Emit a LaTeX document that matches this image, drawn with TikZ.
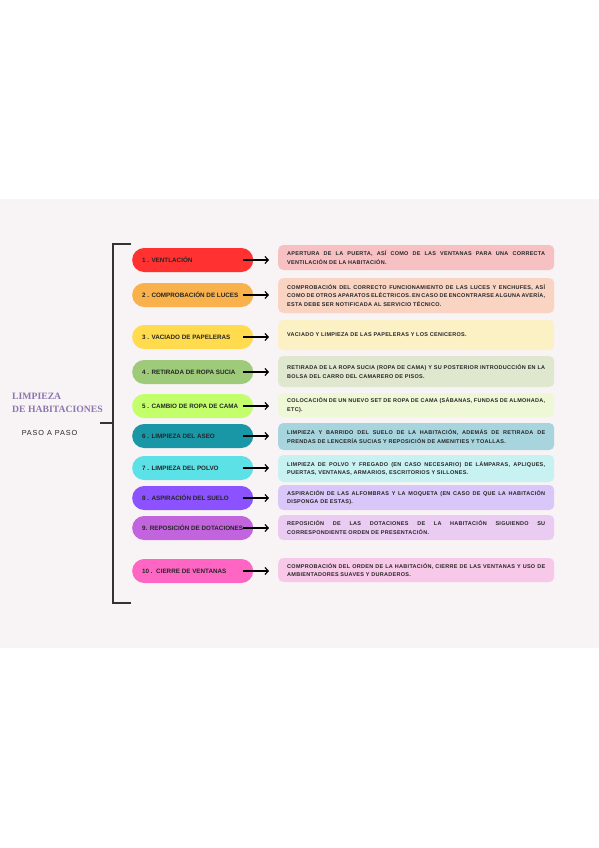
\documentclass[tikz,border=0pt]{standalone}
\usepackage{fontspec}
\setmainfont{Liberation Serif}
\newfontfamily\pillsans{Liberation Sans}
\newfontfamily\boxsans[LetterSpace=5]{Liberation Sans}
\newfontfamily\pasofont[LetterSpace=12]{Liberation Sans}
\usetikzlibrary{arrows.meta}
\newcommand{\nohyph}{\hyphenpenalty=10000\relax\exhyphenpenalty=10000\relax}
\definecolor{bandbg}{HTML}{F8F3F4}
\definecolor{titlec}{HTML}{8B76B0}
\definecolor{txtc}{HTML}{262626}
\definecolor{ca}{HTML}{FF3131}\definecolor{la}{HTML}{F7C1C4}
\definecolor{cb}{HTML}{F9B14C}\definecolor{lb}{HTML}{F9D4C2}
\definecolor{cc}{HTML}{FFDB4D}\definecolor{lc}{HTML}{FCF0C5}
\definecolor{cd}{HTML}{9ECB7A}\definecolor{ld}{HTML}{DFE8CF}
\definecolor{ce}{HTML}{C3FF6A}\definecolor{le}{HTML}{EEF7D6}
\definecolor{cf}{HTML}{1A97A7}\definecolor{lf}{HTML}{A7D4DD}
\definecolor{cg}{HTML}{5CE1E6}\definecolor{lg}{HTML}{C8F1F2}
\definecolor{ch}{HTML}{8C52FF}\definecolor{lh}{HTML}{D9C7F9}
\definecolor{ci}{HTML}{C264DE}\definecolor{li}{HTML}{EACCF3}
\definecolor{cj}{HTML}{FF66C4}\definecolor{lj}{HTML}{F8C8E8}
\tikzset{
  pill/.style={fill=#1, draw=none, rounded corners=11.9pt, minimum width=121pt,
    minimum height=24pt, inner xsep=10pt, inner ysep=0pt, anchor=west,
    font=\pillsans\bfseries\fontsize{6.3}{7}\selectfont, text=txtc},
  infobox/.style={fill=#1, draw=none, rounded corners=5pt, text width=258pt,
    inner xsep=9pt, inner ysep=0pt, anchor=west, align=justify,
    font=\boxsans\bfseries\fontsize{5.5}{8.5}\selectfont\nohyph, text=txtc},
  arr/.style={line width=1.2pt, -{Straight Barb[length=3.2pt,width=7pt,line width=1.2pt]}},
  bracket/.style={line width=1.3pt, draw=black!80},
  titlefont/.style={font=\bfseries\fontsize{9.7}{12}\selectfont, text=titlec, anchor=base west, inner sep=0pt},
}
\newcommand{\pilltext}[1]{\makebox[101pt][l]{#1}}
\begin{document}
\begin{tikzpicture}[x=1pt,y=-1pt]
\useasboundingbox (0,0) rectangle (599,848);
\fill[white] (0,0) rectangle (599,848);
\fill[bandbg] (0,199) rectangle (599,648);

% bracket
\coordinate (bt) at (131,244);
\coordinate (btc) at (113,244);
\coordinate (bbc) at (113,603);
\coordinate (bb) at (131,603);
\coordinate (tm) at (113,423);
\coordinate (tl) at (100,423);
\draw[bracket] (bt) -- (btc) -- (bbc) -- (bb);
\draw[bracket] (tl) -- (tm);

% title
\node[titlefont] (t1) at (12,399) {LIMPIEZA};
\node[titlefont] (t2) at (12,412) {DE HABITACIONES};
\node[font=\pasofont\fontsize{7.3}{8}\selectfont, text=txtc, inner sep=0pt] (t3) at (49.5,433) {PASO A PASO};

% pills
\node[pill=ca] (p1) at (132,260) {\pilltext{1 . VENTLACIÓN}};
\node[pill=cb] (p2) at (132,295) {\pilltext{2 . COMPROBACIÓN DE LUCES}};
\node[pill=cc] (p3) at (132,337) {\pilltext{3 . VACIADO DE PAPELERAS}};
\node[pill=cd] (p4) at (132,372) {\pilltext{4 . RETIRADA DE ROPA SUCIA}};
\node[pill=ce] (p5) at (132,406) {\pilltext{5 . CAMBIO DE ROPA DE CAMA}};
\node[pill=cf] (p6) at (132,436) {\pilltext{6 . LIMPIEZA DEL ASEO}};
\node[pill=cg] (p7) at (132,468) {\pilltext{7 . LIMPIEZA DEL POLVO}};
\node[pill=ch] (p8) at (132,498) {\pilltext{8 . ASPIRACIÓN DEL SUELO}};
\node[pill=ci] (p9) at (132,528) {\pilltext{9. REPOSICIÓN DE DOTACIONES}};
\node[pill=cj] (p10) at (132,571) {\pilltext{10 .\ \ CIERRE DE VENTANAS}};

% info boxes
\node[infobox=la, minimum height=25pt] (b1) at (278,257.5) {APERTURA DE LA PUERTA, ASÍ COMO DE LAS VENTANAS PARA UNA CORRECTA\linebreak VENTILACIÓN DE LA HABITACIÓN.};
\node[infobox=lb, minimum height=35pt] (b2) at (278,295.5) {COMPROBACIÓN DEL CORRECTO FUNCIONAMIENTO DE LAS LUCES Y ENCHUFES, ASÍ\linebreak COMO DE OTROS APARATOS ELÉCTRICOS. EN CASO DE ENCONTRARSE ALGUNA AVERÍA,\linebreak ESTA DEBE SER NOTIFICADA AL SERVICIO TÉCNICO.};
\node[infobox=lc, minimum height=30pt] (b3) at (278,335) {VACIADO Y LIMPIEZA DE LAS PAPELERAS Y LOS CENICEROS.};
\node[infobox=ld, minimum height=31pt] (b4) at (278,371.5) {RETIRADA DE LA ROPA SUCIA (ROPA DE CAMA) Y SU POSTERIOR INTRODUCCIÓN EN LA\linebreak BOLSA DEL CARRO DEL CAMARERO DE PISOS.};
\node[infobox=le, minimum height=24pt] (b5) at (278,405) {COLOCACIÓN DE UN NUEVO SET DE ROPA DE CAMA (SÁBANAS, FUNDAS DE ALMOHADA,\linebreak ETC).};
\node[infobox=lf, minimum height=27pt] (b6) at (278,436.5) {LIMPIEZA Y BARRIDO DEL SUELO DE LA HABITACIÓN, ADEMÁS DE RETIRADA DE\linebreak PRENDAS DE LENCERÍA SUCIAS Y REPOSICIÓN DE AMENITIES Y TOALLAS.};
\node[infobox=lg, minimum height=27pt] (b7) at (278,468.5) {LIMPIEZA DE POLVO Y FREGADO (EN CASO NECESARIO) DE LÁMPARAS, APLIQUES,\linebreak PUERTAS, VENTANAS, ARMARIOS, ESCRITORIOS Y SILLONES.};
\node[infobox=lh, minimum height=25pt] (b8) at (278,497.5) {ASPIRACIÓN DE LAS ALFOMBRAS Y LA MOQUETA (EN CASO DE QUE LA HABITACIÓN\linebreak DISPONGA DE ESTAS).};
\node[infobox=li, minimum height=25pt] (b9) at (278,527.5) {REPOSICIÓN DE LAS DOTACIONES DE LA HABITACIÓN SIGUIENDO SU\linebreak CORRESPONDIENTE ORDEN DE PRESENTACIÓN.};
\node[infobox=lj, minimum height=24pt] (b10) at (278,570) {COMPROBACIÓN DEL ORDEN DE LA HABITACIÓN, CIERRE DE LAS VENTANAS Y USO DE\linebreak AMBIENTADORES SUAVES Y DURADEROS.};

% arrows
\foreach \i in {1,...,10}{
  \draw[arr] ([xshift=-10pt]p\i.east) -- ([xshift=-9pt]p\i.east -| b\i.west);
}
\end{tikzpicture}
\end{document}
